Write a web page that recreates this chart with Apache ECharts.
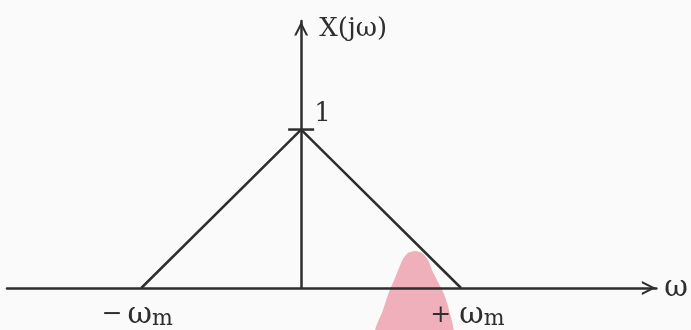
<!DOCTYPE html>
<html>
<head>
<meta charset="utf-8">
<script src="https://cdn.jsdelivr.net/npm/echarts@6/dist/echarts.min.js"></script>
<style>html,body{margin:0;padding:0;background:#fbfafa;overflow:hidden;}#c{width:691px;height:330px;}</style>
</head>
<body>
<div id="c"></div>
<script>
// Data
const omegaValues = [-1, 0, 1];          // -ωm, 0, +ωm
const spectrumValues = [0, 1, 0];        // X(jω)
const xTickValues = [-1, 1];
const xTickLabels = [['−', 'ω', 'm'], ['+', 'ω', 'm']];
const peakLabel = '1';
const xAxisName = 'ω';
const yAxisName = 'X(jω)';

const ink = '#2e2e2e';
const serif = '"DejaVu Serif", "Liberation Serif", serif';
const chevron = 'path://M0,10 L5,0 L10,10 L8.4,10 L5,3.2 L1.6,10 Z';

const chart = echarts.init(document.getElementById('c'), null, {renderer: 'canvas'});
chart.setOption({
  backgroundColor: '#fbfafa',
  animation: false,
  graphic: [{
    type: 'polygon',
    z: 0,
    silent: true,
    shape: {
      points: [[376, 334], [383, 310], [389, 292], [395, 278], [399, 268], [403, 259], [408, 253], [415, 251],
               [422, 253], [428, 260], [432, 270], [438, 282], [444, 294], [449, 310], [452, 334]],
      smooth: 0.25
    },
    style: {fill: 'rgba(226,95,120,0.48)'}
  }],
  grid: {left: 7, right: 24, top: 21, bottom: 36},
  xAxis: {
    type: 'value',
    min: -1.84, max: 2.222,
    splitLine: {show: false},
    axisLine: {
      show: true, onZero: true,
      symbol: ['none', chevron], symbolSize: [14, 15], symbolOffset: [0, -7.5],
      lineStyle: {color: ink, width: 2.5}
    },
    axisTick: {show: false},
    axisLabel: {
      show: true,
      customValues: xTickValues,
      margin: 8,
      formatter: function (v) {
        const i = xTickValues.indexOf(v);
        if (i < 0) return '';
        const t = xTickLabels[i];
        return v < 0
          ? '{n|' + t[0] + '}{o|' + t[1] + '}{sl|' + t[2] + '}'
          : '{p|' + t[0] + '}{o|' + t[1] + '}{s|' + t[2] + '}';
      },
      rich: {
        n: {fontFamily: serif, fontSize: 25, color: ink, padding: [0, 5, 3, 0], verticalAlign: 'bottom'},
        p: {fontFamily: serif, fontSize: 25, color: ink, padding: [0, 8, 2, 13], verticalAlign: 'bottom'},
        o: {fontFamily: serif, fontSize: 30, color: ink, verticalAlign: 'bottom'},
        s: {fontFamily: serif, fontSize: 22, color: ink, padding: [12, 0, 0, 0], verticalAlign: 'bottom'},
        sl: {fontFamily: serif, fontSize: 22, color: ink, padding: [12, 8, 0, 0], verticalAlign: 'bottom'}
      }
    },
    name: xAxisName,
    nameLocation: 'end',
    nameGap: 8,
    nameTextStyle: {fontFamily: serif, fontSize: 29, color: ink, align: 'left', verticalAlign: 'middle'}
  },
  yAxis: {
    type: 'value',
    min: 0, max: 1.685,
    splitLine: {show: false},
    axisLine: {
      show: true, onZero: true,
      symbol: ['none', chevron], symbolSize: [14, 15], symbolOffset: [0, -7.5],
      lineStyle: {color: ink, width: 2.5}
    },
    axisTick: {show: false},
    axisLabel: {show: false},
    name: yAxisName,
    nameLocation: 'end',
    nameGap: -8,
    nameTextStyle: {fontFamily: serif, fontSize: 26, color: ink, align: 'left', verticalAlign: 'middle', padding: [0, 0, 0, 18]}
  },
  series: [{
    type: 'line',
    data: omegaValues.map((x, i) => [x, spectrumValues[i]]),
    showSymbol: false,
    lineStyle: {color: ink, width: 2.5},
    z: 3,
    markPoint: {
      silent: true,
      symbol: 'rect',
      symbolSize: [26, 2.5],
      itemStyle: {color: ink},
      label: {
        show: true, formatter: peakLabel, position: 'right', distance: 0, offset: [0, -15],
        fontFamily: serif, fontSize: 26, color: ink
      },
      data: [{coord: [omegaValues[1], spectrumValues[1]]}]
    }
  }]
});
</script>
</body>
</html>
